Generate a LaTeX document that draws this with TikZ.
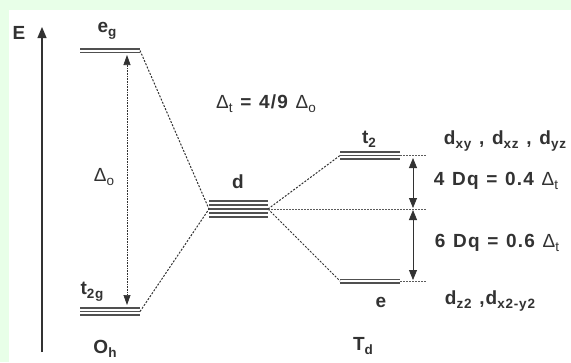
\documentclass[tikz,border=0pt]{standalone}
\usepackage{fontspec}
\setmainfont{Liberation Sans}
\newfontfamily\labfont[LetterSpace=6, WordSpace=1.2]{Liberation Sans}
\newcommand\lsub[1]{\raisebox{-0.22em}{\fontsize{13.5}{13.5}\selectfont #1}}
\usetikzlibrary{arrows.meta}
\definecolor{bggreen}{RGB}{232,255,232}
\definecolor{ink}{RGB}{50,50,50}
\definecolor{lvlc}{RGB}{80,80,80}
\begin{document}
\begin{tikzpicture}[x=1pt,y=-1pt,
  lab/.style={font=\labfont\bfseries\fontsize{19}{19}\selectfont, text=ink, inner sep=0pt},
  lvl/.style={draw=lvlc, line width=1.3pt},
  conn/.style={draw=ink, dash pattern=on 2pt off 1.5pt, line width=1pt},
  fine/.style={draw=ink!80, dash pattern=on 1.5pt off 1.5pt, line width=0.7pt},
  tipa/.style={-{Triangle[width=9pt,length=11pt]}},
  dbl/.style={{Triangle[width=8pt,length=10pt]}-{Triangle[width=8pt,length=10pt]}, draw=ink, line width=0.8pt},
  dotdbl/.style={{Triangle[width=7pt,length=10pt]}-{Triangle[width=7pt,length=10pt]}, draw=ink, dash pattern=on 0.8pt off 0.8pt, line width=0.7pt}
]
\useasboundingbox (0,0) rectangle (571,362);
\fill[bggreen] (0,0) rectangle (571,362);
\fill[white] (9,10) rectangle (571,362);

% energy axis
\coordinate (Ebot) at (42,352);
\coordinate (Etop) at (42,27);
\draw[tipa, draw=ink, line width=1.2pt] (Ebot) -- (Etop);
\node[lab] (E) at (19,33) {E};

% Oh levels
\foreach \y in {49,52.5} \draw[lvl] (80,\y) -- (140,\y);
\foreach \y in {308,311.5,315} \draw[lvl] (80,\y) -- (140,\y);
\coordinate (egR) at (140,50.5);
\coordinate (tgR) at (140,311.5);
\node[lab] (eg) at (107,31) {e\lsub{g}};
\node[lab] (t2g) at (92,292) {t\lsub{2g}};
\node[lab] (Oh) at (105,349) {O\lsub{h}};
\coordinate (doT) at (127,55);
\coordinate (doB) at (127,305);
\draw[dotdbl] (doT) -- (doB);
\node[lab, font=\labfont\mdseries\fontsize{19}{19}\selectfont] (Do) at (104,177) {Δ\lsub{o}};

% free ion d
\foreach \y in {201,205,209,213,217} \draw[lvl] (209,\y) -- (268,\y);
\coordinate (dL) at (209,209);
\coordinate (dR) at (268,209);
\node[lab] (d) at (238,182) {d};
\node[lab] (rel) at (266,104) {{\mdseries Δ\lsub{t}} = 4/9 {\mdseries Δ\lsub{o}}};

% Td levels
\foreach \y in {152,155.5,159} \draw[lvl] (340,\y) -- (400,\y);
\foreach \y in {279.5,283} \draw[lvl] (340,\y) -- (400,\y);
\coordinate (t2L) at (340,155.5);
\coordinate (t2R) at (400,155.5);
\coordinate (eL) at (340,281);
\coordinate (eR) at (400,281);
\node[lab] (t2) at (369,139) {t\lsub{2}};
\node[lab] (e) at (381,302) {e};
\node[lab] (Td) at (363,346) {T\lsub{d}};

% correlation lines
\draw[conn] (egR) -- (dL);
\draw[conn] (tgR) -- (dL);
\draw[conn] (dR) -- (t2L);
\draw[conn] (dR) -- (eL);

% baricentre and extensions
\coordinate (t2X) at (427,155.5);
\coordinate (eX) at (427,281);
\coordinate (dX) at (427,209);
\draw[fine] (dR) -- (dX);
\draw[fine] (t2R) -- (t2X);
\draw[fine] (eR) -- (eX);

% splitting arrows
\coordinate (a1) at (413,158);
\coordinate (a2) at (413,208);
\coordinate (a3) at (413,210);
\coordinate (a4) at (413,280);
\draw[dbl] (a1) -- (a2);
\draw[dbl] (a3) -- (a4);

% labels on the right
\node[lab] (orbT) at (505,141) {d\lsub{xy} , d\lsub{xz} , d\lsub{yz}};
\node[lab] (fourDq) at (496,181) {4 Dq = 0.4 {\mdseries Δ\lsub{t}}};
\node[lab] (sixDq) at (497,243) {6 Dq = 0.6 {\mdseries Δ\lsub{t}}};
\node[lab] (orbE) at (490,301) {d\lsub{z2} ,d\lsub{x2-y2}};
\end{tikzpicture}
\end{document}
